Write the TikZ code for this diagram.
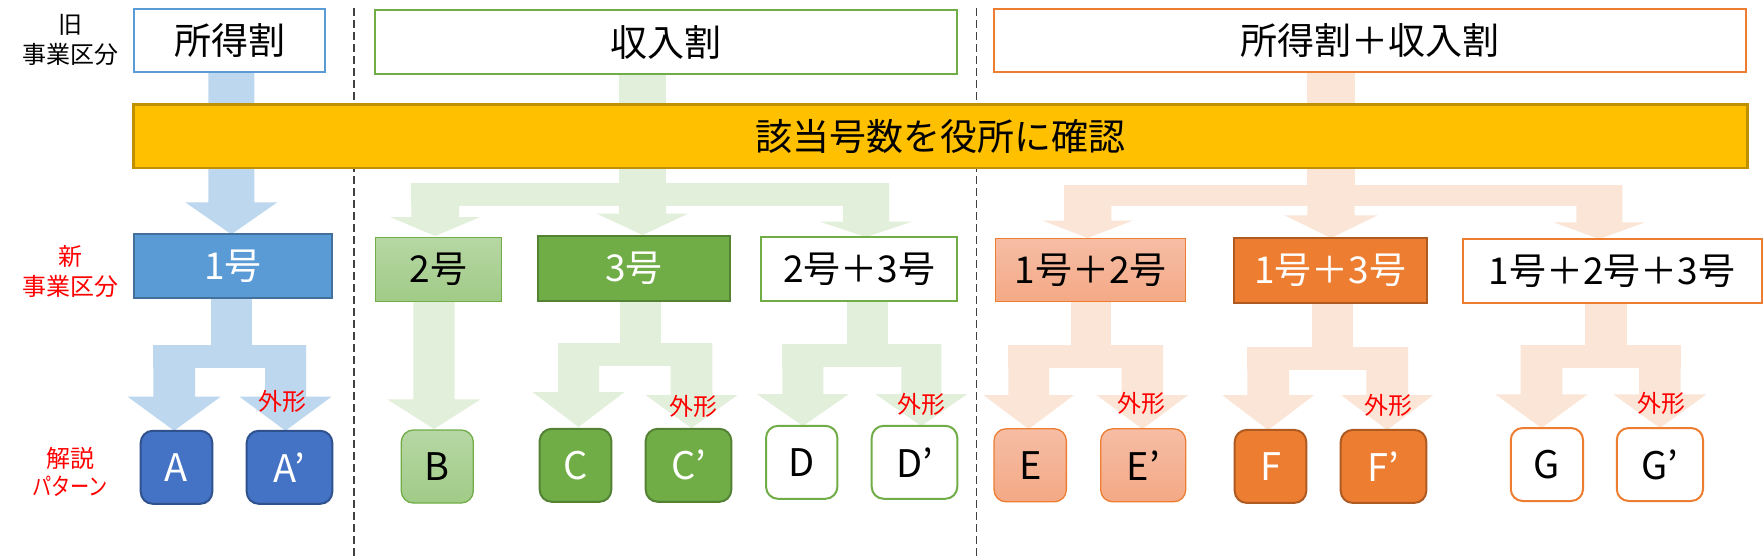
\documentclass[tikz,border=0pt]{standalone}
\usepackage{fontspec}
\usepackage{graphicx}
\setmainfont{Noto Sans CJK JP}
\usetikzlibrary{shadings}
\definecolor{arrB}{HTML}{BDD7EE}
\definecolor{arrG}{HTML}{E2EFDA}
\definecolor{arrO}{HTML}{FBE5D6}
\definecolor{blueL}{HTML}{5B9BD5}
\definecolor{blueD}{HTML}{41719C}
\definecolor{blueP}{HTML}{4472C4}
\definecolor{bluePD}{HTML}{2F528F}
\definecolor{greenM}{HTML}{70AD47}
\definecolor{greenD}{HTML}{548235}
\definecolor{greenLt}{HTML}{B6D7A4}
\definecolor{greenLb}{HTML}{A1CB87}
\definecolor{orgM}{HTML}{ED7D31}
\definecolor{orgD}{HTML}{AE5A21}
\definecolor{orgLt}{HTML}{F6BDA5}
\definecolor{orgLb}{HTML}{F4A985}
\definecolor{yelF}{HTML}{FFC000}
\definecolor{yelD}{HTML}{BF9000}
\newcommand{\darrow}[7]{%
  \pgfmathsetmacro{\dcx}{(#2+#3)/2}%
  \fill[#1] (#2,#4) -- (#3,#4) -- (#3,#5) -- ({\dcx+#6},#5) -- (\dcx,#7) -- ({\dcx-#6},#5) -- (#2,#5) -- cycle;}
\tikzset{
  base/.style={inner sep=0pt, outer sep=0pt, font=\fontsize{37}{40}\selectfont},
  topbox/.style={base, draw=#1, line width=2pt, fill=white},
  midbox/.style={base, line width=2pt},
  patbox/.style={base, rounded corners=12pt, line width=2pt, minimum height=73, font=\fontsize{38}{40}\selectfont},
  side/.style={inner sep=0pt, font=\fontsize{24}{26}\selectfont},
  gai/.style={inner sep=0pt, font=\fontsize{24}{26}\selectfont, text=red},
  dashline/.style={dash pattern=on 8pt off 4pt, line width=1.3pt, draw=black!75},
}
\begin{document}
\begin{tikzpicture}[x=1pt,y=-1pt]
\useasboundingbox (0,0) rectangle (1764,558);
\fill[white] (0,0) rectangle (1764,558);

% dashed separators
\coordinate (s1t) at (354,8);   \coordinate (s1b) at (354,556);
\coordinate (s2t) at (976.7,8); \coordinate (s2b) at (976.7,556);
\draw[dashline] (s1t) -- (s1b);
\draw[dashline] (s2t) -- (s2b);

% ---------- block arrows ----------
% blue
\darrow{arrB}{208.3}{254.3}{72}{202.3}{46}{234.3}
\fill[arrB] (211,296) rectangle (251.7,367.7);
\fill[arrB] (153.3,345) rectangle (306,367.7);
\darrow{arrB}{153.3}{195}{345}{396.7}{46.5}{430.7}
\darrow{arrB}{265}{306}{345}{396.7}{46}{430.7}
% green top
\fill[arrG] (619,72) rectangle (666,206);
\fill[arrG] (411.3,183) rectangle (889,206);
\darrow{arrG}{411.3}{459}{183}{217}{45}{236}
\darrow{arrG}{619}{666}{183}{213.5}{46}{235}
\darrow{arrG}{843}{889}{183}{221.7}{46}{237}
% green lower
\darrow{arrG}{413.3}{454.7}{300}{399.3}{46.7}{429}
\fill[arrG] (619.7,300) rectangle (660.7,365.5);
\fill[arrG] (558,343) rectangle (712.3,365.5);
\darrow{arrG}{558}{599}{343}{392}{46}{427}
\darrow{arrG}{670.7}{712.3}{343}{395}{46}{428}
\fill[arrG] (847.3,300) rectangle (888,366.5);
\fill[arrG] (782.3,344) rectangle (941.3,366.5);
\darrow{arrG}{782.3}{823.4}{344}{394}{46}{426}
\darrow{arrG}{901.3}{941.3}{344}{394}{46}{426}
% orange top
\fill[arrO] (1307.3,72) rectangle (1354.7,206.4);
\fill[arrO] (1064,185) rectangle (1622.3,206.4);
\darrow{arrO}{1064}{1111.3}{185}{220.6}{45}{238}
\darrow{arrO}{1307.3}{1354.7}{185}{215.3}{46.5}{238}
\darrow{arrO}{1576.3}{1622.3}{185}{222.4}{45.5}{239}
% orange lower
\fill[arrO] (1070.7,301) rectangle (1110.7,367.6);
\fill[arrO] (1008.3,345) rectangle (1163,367.6);
\darrow{arrO}{1008.3}{1049}{345}{395}{45.4}{429}
\darrow{arrO}{1121.7}{1163}{345}{395}{45.8}{429}
\fill[arrO] (1312.3,302) rectangle (1353.3,370);
\fill[arrO] (1247.3,347) rectangle (1408,370);
\darrow{arrO}{1247.3}{1289}{347}{395}{46}{430}
\darrow{arrO}{1366.3}{1408}{347}{395}{46}{430}
\fill[arrO] (1585,302) rectangle (1626.7,367.6);
\fill[arrO] (1520.7,345) rectangle (1680.7,367.6);
\darrow{arrO}{1520.7}{1562.3}{345}{394.3}{46}{428}
\darrow{arrO}{1639}{1680.7}{345}{394.3}{46.5}{428}

% ---------- left labels ----------
\node[side] (old1) at (70,25) {旧};
\node[side] (old2) at (70,54) {事業区分};
\node[side,text=red] (new1) at (70,256) {新};
\node[side,text=red] (new2) at (70,286) {事業区分};
\node[side,text=red] (pat1) at (70,458) {解説};
\node[side,text=red] (pat2) at (70,486) {\scalebox{0.8}[1]{パターン}};

% ---------- top boxes ----------
\node[topbox=blueL, minimum width=191, minimum height=63] (shotoku) at (229.5,40.5) {所得割};
\node[topbox=greenM, minimum width=582.6, minimum height=64] (shunyu) at (666,42) {収入割};
\node[topbox=orgM, minimum width=751.7, minimum height=63] (both) at (1369.9,40.6) {所得割＋収入割};
\node[base, fill=yelF, draw=yelD, line width=2.5pt, minimum width=1613.6, minimum height=63.5] (confirm) at (940.5,136.2) {該当号数を役所に確認};

% ---------- new classification ----------
\node[midbox, fill=blueL, draw=blueD, text=white, minimum width=198.6, minimum height=63.4] (n1) at (233,266) {1号};
\node[midbox, top color=greenLt, bottom color=greenLb, draw=greenM, line width=1.3pt, minimum width=126.4, minimum height=64] (n2) at (438.5,269.4) {2号};
\node[midbox, fill=greenM, draw=greenD, text=white, minimum width=191.4, minimum height=64.7] (n3) at (634,268.4) {3号};
\node[midbox, fill=white, draw=greenM, minimum width=196, minimum height=64] (n23) at (859.3,269.4) {2号＋3号};
\node[midbox, top color=orgLt, bottom color=orgLb, draw=orgM, line width=1.3pt, minimum width=190.4, minimum height=63.4] (n12) at (1090.5,270.1) {1号＋2号};
\node[midbox, fill=orgM, draw=orgD, text=white, minimum width=192.7, minimum height=64.6] (n13) at (1330.3,270.7) {1号＋3号};
\node[midbox, fill=white, draw=orgM, minimum width=299, minimum height=64] (n123) at (1612,271) {1号＋2号＋3号};

% ---------- patterns ----------
\node[patbox, fill=blueP, draw=bluePD, text=white, minimum width=71.6] (pA) at (176.5,467.3) {A};
\node[patbox, fill=blueP, draw=bluePD, text=white, minimum width=85.6] (pA2) at (289.5,467.3) {A’};
\node[patbox, top color=greenLt, bottom color=greenLb, draw=greenM, line width=1.3pt, minimum width=72] (pB) at (437.3,466.5) {B};
\node[patbox, fill=greenM, draw=greenD, text=white, minimum width=71.6] (pC) at (575.5,465.3) {C};
\node[patbox, fill=greenM, draw=greenD, text=white, minimum width=85.6] (pC2) at (688.5,465.3) {C’};
\node[patbox, fill=white, draw=greenM, minimum width=71.3] (pD) at (801.7,462.3) {D};
\node[patbox, fill=white, draw=greenM, minimum width=85.6] (pD2) at (914.5,462.3) {D’};
\node[patbox, top color=orgLt, bottom color=orgLb, draw=orgM, line width=1.3pt, minimum width=72.3] (pE) at (1030.2,465.3) {E};
\node[patbox, top color=orgLt, bottom color=orgLb, draw=orgM, line width=1.3pt, minimum width=85] (pE2) at (1143.2,465.3) {E’};
\node[patbox, fill=orgM, draw=orgD, text=white, minimum width=71.6] (pF) at (1270.5,466.4) {F};
\node[patbox, fill=orgM, draw=orgD, text=white, minimum width=85.6] (pF2) at (1383.5,466.4) {F’};
\node[patbox, fill=white, draw=orgM, minimum width=72.3] (pG) at (1546.9,464.5) {G};
\node[patbox, fill=white, draw=orgM, minimum width=86.3] (pG2) at (1659.9,464.5) {G’};

% ---------- 外形 labels ----------
\node[gai] (gA) at (282.5,401.7) {外形};
\node[gai] (gC) at (693,406.5) {外形};
\node[gai] (gD) at (921,404.5) {外形};
\node[gai] (gE) at (1141.5,403) {外形};
\node[gai] (gF) at (1388,405) {外形};
\node[gai] (gG) at (1661.5,403.6) {外形};
\end{tikzpicture}
\end{document}
